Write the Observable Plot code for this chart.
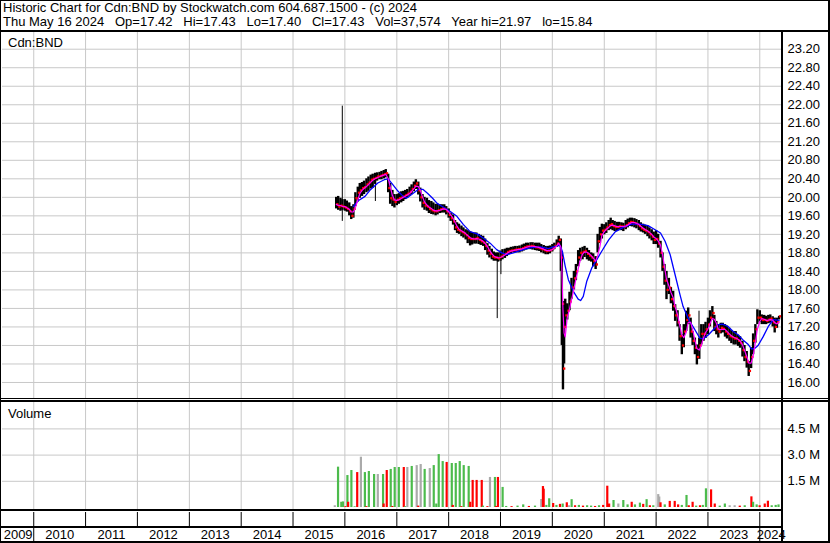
<!DOCTYPE html>
<html><head><meta charset="utf-8">
<script src="https://cdn.jsdelivr.net/npm/d3@7"></script>
<script src="https://cdn.jsdelivr.net/npm/@observablehq/plot@0.6"></script>
<style>
html,body{margin:0;padding:0;background:#fff;}
#chart{position:relative;width:830px;height:543px;overflow:hidden;font-family:"Liberation Sans",Arial,sans-serif;color:#000;background:#fff;}
.abs{position:absolute;}
.ln{position:absolute;background:#000;}
#hdr{position:absolute;left:3px;top:1px;font-size:13px;line-height:14px;white-space:pre;}
.lbl{position:absolute;font-size:13px;line-height:13px;white-space:pre;}
svg{display:block;overflow:visible;}
</style></head><body>
<div id="chart">
<div id="hdr">Historic Chart for Cdn:BND by Stockwatch.com 604.687.1500 - (c) 2024
Thu May 16 2024   Op=17.42   Hi=17.43   Lo=17.40   Cl=17.43   Vol=37,574   Year hi=21.97   lo=15.84</div>
<div id="price" class="abs" style="left:0;top:32px"></div>
<div id="volume" class="abs" style="left:0;top:401px"></div>
<div id="axis" class="abs" style="left:0;top:509px"></div>
<div class="lbl" style="left:8px;top:36px">Cdn:BND</div>
<div class="lbl" style="left:8px;top:407px">Volume</div>
<!-- frame lines -->
<div class="ln" style="left:0;top:0;width:830px;height:1px"></div>
<div class="ln" style="left:0;top:0;width:1px;height:542px"></div>
<div class="ln" style="left:828px;top:0;width:2px;height:542px"></div>
<div class="ln" style="left:0;top:541px;width:830px;height:2px"></div>
<div class="ln" style="left:0;top:30px;width:830px;height:2px"></div>
<div class="ln" style="left:781px;top:32px;width:2px;height:510px"></div>
<div class="ln" style="left:0;top:398px;width:830px;height:1px"></div>
<div class="ln" style="left:0;top:400px;width:830px;height:2px"></div>
<div class="ln" style="left:0;top:509px;width:782px;height:2px"></div>
<div class="ln" style="left:0;top:526px;width:782px;height:2px"></div>
</div>
<script>
// ---------- data ----------
const priceDates = ["2015-11-01","2015-11-15","2015-12-01","2015-12-15",
"2016-01-01","2016-01-15","2016-02-01","2016-02-15","2016-03-01","2016-03-15","2016-04-01","2016-04-15","2016-05-01","2016-05-15","2016-06-01","2016-06-15","2016-07-01","2016-07-15","2016-08-01","2016-08-15","2016-09-01","2016-09-15","2016-10-01","2016-10-15","2016-11-01","2016-11-15","2016-12-01","2016-12-15",
"2017-01-01","2017-01-15","2017-02-01","2017-02-15","2017-03-01","2017-03-15","2017-04-01","2017-04-15","2017-05-01","2017-05-15","2017-06-01","2017-06-15","2017-07-01","2017-07-15","2017-08-01","2017-08-15","2017-09-01","2017-09-15","2017-10-01","2017-10-15","2017-11-01","2017-11-15","2017-12-01","2017-12-15",
"2018-01-01","2018-01-15","2018-02-01","2018-02-15","2018-03-01","2018-03-15","2018-04-01","2018-04-15","2018-05-01","2018-05-15","2018-06-01","2018-06-15","2018-07-01","2018-07-15","2018-08-01","2018-08-15","2018-09-01","2018-09-15","2018-10-01","2018-10-15","2018-11-01","2018-11-15","2018-12-01","2018-12-15",
"2019-01-01","2019-01-15","2019-02-01","2019-02-15","2019-03-01","2019-03-15","2019-04-01","2019-04-15","2019-05-01","2019-05-15","2019-06-01","2019-06-15","2019-07-01","2019-07-15","2019-08-01","2019-08-15","2019-09-01","2019-09-15","2019-10-01","2019-10-15","2019-11-01","2019-11-15","2019-12-01","2019-12-15",
"2020-01-01","2020-01-15","2020-02-01","2020-02-15","2020-03-01","2020-03-08","2020-03-16","2020-03-24","2020-04-01","2020-04-15","2020-05-01","2020-05-15","2020-06-01","2020-06-15","2020-07-01","2020-07-15","2020-08-01","2020-08-15","2020-09-01","2020-09-15","2020-10-01","2020-10-15","2020-11-01","2020-11-15","2020-12-01","2020-12-15",
"2021-01-01","2021-01-15","2021-02-01","2021-02-15","2021-03-01","2021-03-15","2021-04-01","2021-04-15","2021-05-01","2021-05-15","2021-06-01","2021-06-15","2021-07-01","2021-07-15","2021-08-01","2021-08-15","2021-09-01","2021-09-15","2021-10-01","2021-10-15","2021-11-01","2021-11-15","2021-12-01","2021-12-15",
"2022-01-01","2022-01-15","2022-02-01","2022-02-15","2022-03-01","2022-03-15","2022-04-01","2022-04-15","2022-05-01","2022-05-15","2022-06-01","2022-06-15","2022-07-01","2022-07-15","2022-08-01","2022-08-15","2022-09-01","2022-09-15","2022-10-01","2022-10-15","2022-11-01","2022-11-15","2022-12-01","2022-12-15",
"2023-01-01","2023-01-15","2023-02-01","2023-02-15","2023-03-01","2023-03-15","2023-04-01","2023-04-15","2023-05-01","2023-05-15","2023-06-01","2023-06-15","2023-07-01","2023-07-15","2023-08-01","2023-08-15","2023-09-01","2023-09-15","2023-10-01","2023-10-15","2023-11-01","2023-11-15","2023-12-01","2023-12-15",
"2024-01-01","2024-01-15","2024-02-01","2024-02-15","2024-03-01","2024-03-15","2024-04-01","2024-04-15","2024-05-01","2024-05-16"];
const priceLow = [19.75,19.72,19.70,19.72,
19.70,19.68,19.60,19.52,19.55,19.80,19.90,19.98,20.02,20.06,20.10,20.13,20.18,20.20,20.28,20.35,20.38,20.38,20.40,20.42,20.10,19.85,19.80,19.77,
19.82,19.85,19.88,19.91,19.95,19.98,20.02,20.06,20.12,20.17,20.05,19.90,19.77,19.72,19.70,19.65,19.63,19.62,19.60,19.62,19.65,19.66,19.66,19.62,
19.55,19.48,19.40,19.28,19.22,19.20,19.15,19.12,19.08,19.00,18.95,18.97,18.99,18.99,18.98,18.96,18.94,18.85,18.75,18.69,18.65,18.62,18.62,18.60,
18.62,18.65,18.68,18.72,18.76,18.78,18.80,18.80,18.80,18.80,18.82,18.84,18.86,18.87,18.87,18.86,18.85,18.84,18.83,18.80,18.78,18.76,18.76,18.78,
18.82,18.87,18.92,18.95,18.40,16.80,15.84,16.40,17.20,17.35,17.55,17.80,18.00,18.20,18.50,18.62,18.65,18.70,18.65,18.62,18.60,18.50,18.44,18.80,19.00,19.10,
19.19,19.22,19.28,19.30,19.28,19.26,19.26,19.28,19.28,19.26,19.30,19.34,19.37,19.36,19.34,19.32,19.28,19.25,19.23,19.20,19.15,19.10,19.06,18.98,
18.98,18.90,18.69,18.40,18.10,17.79,17.90,17.70,17.54,17.32,17.20,16.89,16.60,16.75,17.10,17.25,16.96,16.80,16.60,16.38,16.50,16.81,16.89,16.95,
17.03,17.20,17.35,17.10,17.03,16.96,17.05,17.07,16.98,16.94,16.89,16.84,16.81,16.81,16.78,16.74,16.55,16.45,16.31,16.13,16.30,16.60,16.85,17.25,
17.30,17.25,17.25,17.25,17.27,17.28,17.20,17.07,17.17,17.35];
const priceHigh = [20.00,20.02,19.98,19.95,
19.95,19.92,19.88,19.80,19.84,20.10,20.22,20.30,20.32,20.35,20.40,20.44,20.48,20.50,20.52,20.53,20.54,20.56,20.58,20.60,20.50,20.30,20.15,20.06,
20.06,20.08,20.12,20.13,20.15,20.17,20.22,20.27,20.33,20.38,20.33,20.20,20.06,20.00,19.98,19.93,19.91,19.88,19.85,19.85,19.84,19.84,19.84,19.80,
19.75,19.66,19.62,19.50,19.45,19.42,19.38,19.34,19.30,19.28,19.26,19.24,19.23,19.23,19.20,19.18,19.16,19.10,19.00,18.94,18.88,18.82,18.80,18.80,
18.84,18.87,18.88,18.90,18.90,18.92,18.93,18.94,18.94,18.95,18.97,18.99,19.01,19.01,19.02,19.02,19.01,19.01,19.01,18.98,18.96,18.94,18.94,18.95,
18.98,19.01,19.08,19.16,19.10,18.80,17.30,17.75,17.80,17.70,17.95,18.25,18.40,18.55,18.85,18.90,18.92,18.94,18.90,18.85,18.80,18.78,18.72,19.20,19.35,19.42,
19.41,19.45,19.50,19.55,19.50,19.48,19.46,19.46,19.45,19.44,19.50,19.53,19.55,19.55,19.54,19.52,19.50,19.45,19.42,19.40,19.38,19.34,19.30,19.25,
19.28,19.20,19.05,18.80,18.55,18.40,18.25,18.05,17.97,17.68,17.55,17.25,17.03,17.25,17.54,17.61,17.39,17.10,16.96,16.81,16.95,17.25,17.25,17.30,
17.39,17.55,17.64,17.45,17.32,17.25,17.28,17.28,17.25,17.22,17.17,17.12,17.10,17.10,17.02,16.99,16.89,16.80,16.67,16.45,16.75,17.05,17.25,17.57,
17.55,17.46,17.45,17.43,17.45,17.46,17.42,17.39,17.39,17.43];
const priceClose = [19.85,19.80,19.82,19.80,
19.78,19.75,19.70,19.60,19.75,19.98,20.10,20.15,20.20,20.22,20.28,20.32,20.38,20.40,20.42,20.45,20.46,20.48,20.50,20.52,20.20,19.98,19.95,19.90,
19.95,19.98,20.00,20.02,20.05,20.08,20.12,20.18,20.25,20.30,20.15,20.00,19.88,19.82,19.80,19.75,19.72,19.70,19.70,19.72,19.74,19.76,19.75,19.70,
19.62,19.55,19.48,19.35,19.30,19.28,19.25,19.22,19.18,19.12,19.10,19.10,19.10,19.12,19.08,19.05,19.02,18.95,18.85,18.78,18.72,18.70,18.70,18.68,
18.72,18.76,18.78,18.82,18.84,18.85,18.86,18.87,18.88,18.88,18.90,18.92,18.94,18.94,18.95,18.94,18.92,18.92,18.90,18.88,18.86,18.84,18.85,18.86,
18.90,18.95,19.00,19.08,18.70,17.70,16.30,17.20,17.45,17.55,17.75,18.05,18.25,18.40,18.70,18.80,18.82,18.84,18.78,18.74,18.70,18.62,18.55,19.05,19.20,19.28,
19.30,19.35,19.40,19.42,19.38,19.36,19.36,19.38,19.37,19.36,19.40,19.44,19.47,19.46,19.44,19.42,19.38,19.33,19.30,19.28,19.25,19.20,19.15,19.08,
19.10,19.00,18.80,18.50,18.20,18.00,18.05,17.80,17.65,17.45,17.30,17.00,16.80,17.10,17.35,17.45,17.10,16.90,16.75,16.55,16.80,17.05,17.05,17.15,
17.25,17.40,17.50,17.20,17.15,17.10,17.18,17.16,17.10,17.05,17.00,16.98,16.95,16.95,16.90,16.85,16.70,16.55,16.45,16.25,16.55,16.90,17.15,17.40,
17.40,17.35,17.35,17.33,17.36,17.38,17.30,17.20,17.30,17.43];

// single-day spikes
const spikeDates = ["2015-12-14","2016-08-03","2018-12-09","2019-01-04","2022-10-30"];
const spikeLow   = [19.48,19.91,17.38,18.33,16.70];
const spikeHigh  = [21.97,20.45,18.75,18.70,17.54];

// long moving average (blue)
const blueDates = ["2016-03-01","2016-04-01","2016-05-22","2016-07-01","2016-08-20","2016-10-05","2016-11-01","2016-12-05","2017-01-10","2017-02-15","2017-03-10","2017-04-15","2017-06-01","2017-07-05","2017-08-05","2017-09-10","2017-10-12","2017-12-05",
"2018-01-10","2018-02-28","2018-04-15","2018-06-01","2018-07-20","2018-09-01","2018-10-20","2018-12-05","2019-01-10","2019-02-15","2019-04-01","2019-05-20","2019-07-05","2019-08-20","2019-10-08","2019-12-05",
"2020-01-08","2020-02-24","2020-03-12","2020-04-01","2020-04-23","2020-05-28","2020-07-01","2020-07-18","2020-08-06","2020-08-30","2020-10-04","2020-11-08","2020-12-13",
"2021-02-01","2021-03-20","2021-05-15","2021-07-12","2021-09-10","2021-11-05","2021-12-25",
"2022-02-01","2022-03-05","2022-04-10","2022-05-12","2022-06-18","2022-07-10","2022-08-05","2022-08-25","2022-10-01","2022-11-05","2022-11-28",
"2023-01-05","2023-02-07","2023-03-15","2023-04-15","2023-05-22","2023-06-28","2023-08-01","2023-09-05","2023-10-12","2023-11-05","2023-11-28","2023-12-20",
"2024-01-25","2024-03-01","2024-04-05","2024-05-16"];
const blueValues = [19.80,19.92,20.02,20.17,20.31,20.38,20.40,20.27,20.13,20.02,19.98,20.06,20.17,20.17,20.09,19.98,19.87,19.77,
19.70,19.59,19.41,19.26,19.21,19.12,19.01,18.87,18.80,18.76,18.80,18.85,18.89,18.92,18.93,18.89,
18.93,18.96,18.83,18.51,18.22,17.97,17.80,17.77,17.86,18.18,18.47,18.65,18.83,
19.08,19.26,19.35,19.42,19.42,19.39,19.30,
19.23,19.05,18.76,18.36,17.90,17.64,17.46,17.32,17.14,16.96,16.94,
17.03,17.14,17.25,17.26,17.21,17.10,17.03,16.92,16.82,16.72,16.74,16.80,
16.99,17.21,17.36,17.34];

// volume
const volDates = ["2015-10-22","2015-11-14","2015-12-07","2015-12-19","2016-01-05","2016-01-19","2016-01-24","2016-02-16","2016-03-10","2016-03-28","2016-04-23","2016-05-21","2016-06-01","2016-06-18","2016-07-25","2016-08-20","2016-09-26","2016-09-30","2016-10-22","2016-11-19","2016-12-01","2016-12-17",
"2017-01-15","2017-02-19","2017-03-01","2017-03-16","2017-04-16","2017-05-21","2017-06-01","2017-06-18","2017-07-16","2017-08-21","2017-09-18","2017-10-06","2017-10-23","2017-11-20","2017-12-18",
"2018-01-23","2018-01-30","2018-02-20","2018-03-20","2018-04-01","2018-04-17","2018-05-22","2018-06-02","2018-06-19","2018-07-17","2018-08-22","2018-08-30","2018-10-01","2018-10-19","2018-11-23","2018-12-01","2018-12-14",
"2019-01-16","2019-02-10","2019-03-20","2019-05-01","2019-06-10","2019-07-20","2019-09-01","2019-10-15","2019-10-27","2019-11-01","2019-11-20","2019-12-10",
"2020-01-07","2020-01-30","2020-02-24","2020-03-14","2020-04-12","2020-04-27","2020-05-16","2020-06-09","2020-07-06","2020-08-04","2020-09-02","2020-09-30","2020-10-28","2020-11-25","2020-12-24",
"2021-01-22","2021-02-04","2021-03-07","2021-04-10","2021-05-15","2021-06-14","2021-07-13","2021-08-05","2021-09-09","2021-10-02","2021-10-26","2021-11-18","2021-12-12",
"2022-01-16","2022-01-23","2022-02-01","2022-03-03","2022-04-07","2022-05-12","2022-06-05","2022-07-01","2022-08-03","2022-08-19","2022-09-15","2022-10-10","2022-11-06","2022-11-26","2022-12-18",
"2023-01-23","2023-02-18","2023-03-25","2023-04-30","2023-06-03","2023-07-08","2023-08-13","2023-09-17","2023-11-03","2023-11-15","2023-12-10","2023-12-31",
"2024-02-05","2024-02-27","2024-03-25","2024-04-22","2024-05-12"];
const volValues = [0.10,2.31,0.30,0.32,0.05,1.83,0.30,2.12,0.04,2.00,2.88,2.00,0.05,2.06,1.89,1.89,1.89,0.20,2.12,2.18,0.06,2.29,
2.29,2.29,0.05,2.29,2.35,2.40,0.08,2.46,2.18,2.23,2.40,0.20,3.03,2.63,2.58,
2.52,0.12,2.52,2.63,0.05,2.40,2.35,0.30,1.55,1.55,1.55,0.08,0.05,1.72,1.72,0.06,1.72,
1.15,0.06,0.05,0.08,0.15,0.06,0.08,0.46,1.20,1.05,0.12,0.50,
0.23,0.12,0.18,0.20,0.27,0.10,0.45,0.10,0.12,0.08,0.10,0.08,0.06,0.10,0.12,
1.22,0.20,0.40,0.20,0.40,0.15,0.30,0.15,0.25,0.18,0.45,0.10,0.10,
0.74,0.60,0.27,0.15,0.35,0.35,0.15,0.12,0.69,0.10,0.30,0.08,0.10,0.12,1.07,
1.01,0.20,0.08,0.20,0.10,0.10,0.08,0.10,0.61,0.30,0.15,0.10,
0.20,0.36,0.10,0.12,0.15];
const volDir = ["flat","up","up","up","down","up","down","up","up","down","flat","up","down","up","up","flat","up","down","down","up","down","up",
"up","down","up","flat","up","flat","down","flat","up","flat","up","up","up","up","down",
"up","down","up","up","down","up","up","down","down","down","down","up","down","flat","up","down","down",
"up","up","down","up","up","down","up","flat","down","down","up","up",
"down","up","down","up","down","flat","up","down","up","down","up","up","down","up","down",
"down","down","up","flat","up","up","down","up","up","down","up","down","up",
"flat","flat","down","up","down","down","down","up","up","down","down","up","down","up","up",
"down","down","up","up","flat","flat","down","up","down","up","up","down",
"down","down","up","up","up"];

// axes
const priceTicks  = [16.0,16.4,16.8,17.2,17.6,18.0,18.4,18.8,19.2,19.6,20.0,20.4,20.8,21.2,21.6,22.0,22.4,22.8,23.2];
const priceLabels = ["16.00","16.40","16.80","17.20","17.60","18.00","18.40","18.80","19.20","19.60","20.00","20.40","20.80","21.20","21.60","22.00","22.40","22.80","23.20"];
const volTicks  = [1.5e6,3.0e6,4.5e6];
const volLabels = ["1.5 M","3.0 M","4.5 M"];
const years = [2009,2010,2011,2012,2013,2014,2015,2016,2017,2018,2019,2020,2021,2022,2023,2024];

// ---------- build ----------
const P = d3.timeParse("%Y-%m-%d");
const xDomain = [P("2009-05-26"), P("2024-06-09")];
const priceRows = priceDates.map((d,i)=>({date:P(d), low:priceLow[i], high:priceHigh[i], close:priceClose[i]}));
const spikeRows = spikeDates.map((d,i)=>({date:P(d), low:spikeLow[i], high:spikeHigh[i]}));
const blueRows = blueDates.map((d,i)=>({date:P(d), v:blueValues[i]}));
const volRows = volDates.map((d,i)=>({date:P(d), v:volValues[i]*1e6, dir:volDir[i]}));
const yearStarts = years.slice(1).map(y=>new Date(y,0,1));
const edgeStarts = [yearStarts[0], yearStarts[yearStarts.length-1]];
const yearLabelRows = years.map(y=>{
  const a = Math.max(+new Date(y,0,1), +xDomain[0]);
  const b = Math.min(+new Date(y+1,0,1), +xDomain[1]);
  return {mid:new Date((a+b)/2), label:String(y)};
});
const priceFmt = new Map(priceTicks.map((t,i)=>[t,priceLabels[i]]));
const volFmt = new Map(volTicks.map((t,i)=>[t,volLabels[i]]));
const font = {fontFamily:"'Liberation Sans', Arial, sans-serif", fontSize:"13px", color:"#000", background:"transparent", overflow:"visible"};
const grid = "#c8c8c8";

const price = Plot.plot({
  width:830, height:366, marginLeft:2, marginRight:48, marginTop:0, marginBottom:0,
  style:font,
  x:{type:"time", domain:xDomain, axis:null},
  y:{domain:[15.654,23.561], axis:"right", ticks:priceTicks, tickSize:0, tickPadding:5, tickFormat:d=>priceFmt.get(d), label:null},
  marks:[
    Plot.ruleY(priceTicks, {stroke:grid, strokeWidth:1}),
    Plot.ruleX(yearStarts, {stroke:grid, strokeWidth:1}),
    Plot.ruleX(spikeRows, {x:"date", y1:"low", y2:"high", stroke:"#000", strokeWidth:1}),
    Plot.ruleX(priceRows, {x:"date", y1:"low", y2:"high", stroke:"#000", strokeWidth:2.4}),
    Plot.dot(priceRows, {x:"date", y:"close", fill:"#ff0000", stroke:null, r:1.3, symbol:"square", dx:1.2}),
    Plot.line(blueRows, {x:"date", y:"v", stroke:"#0000ff", strokeWidth:1.3}),
    Plot.lineY(priceRows, Plot.windowY({k:3, anchor:"end"}, {x:"date", y:"close", stroke:"#ff00ff", strokeWidth:1.2}))
  ]
});
document.getElementById("price").appendChild(price);

const volume = Plot.plot({
  width:830, height:108, marginLeft:2, marginRight:48, marginTop:0, marginBottom:0,
  style:font,
  x:{type:"time", domain:xDomain, axis:null},
  y:{domain:[-0.1145e6,6.069e6], axis:"right", ticks:volTicks, tickSize:0, tickPadding:5, tickFormat:d=>volFmt.get(d), label:null},
  color:{domain:["up","down","flat"], range:["#4cbb4c","#ff0000","#aaaaaa"]},
  marks:[
    Plot.ruleY(volTicks, {stroke:grid, strokeWidth:1}),
    Plot.ruleX(yearStarts, {stroke:grid, strokeWidth:1}),
    Plot.ruleX(volRows, {x:"date", y1:0, y2:"v", stroke:"dir", strokeWidth:2.2})
  ]
});
document.getElementById("volume").appendChild(volume);

const axis = Plot.plot({
  width:830, height:33, marginLeft:2, marginRight:48, marginTop:18, marginBottom:0,
  style:font,
  x:{type:"time", domain:xDomain, axis:"top", ticks:yearStarts, tickSize:16, tickPadding:0, tickFormat:()=>"", label:null},
  marks:[
    Plot.ruleX(edgeStarts, {stroke:"#000", strokeWidth:1}),
    Plot.text(yearLabelRows, {x:"mid", text:"label", frameAnchor:"middle", fontSize:13, fill:"#000"})
  ]
});
document.getElementById("axis").appendChild(axis);
</script>
</body></html>
